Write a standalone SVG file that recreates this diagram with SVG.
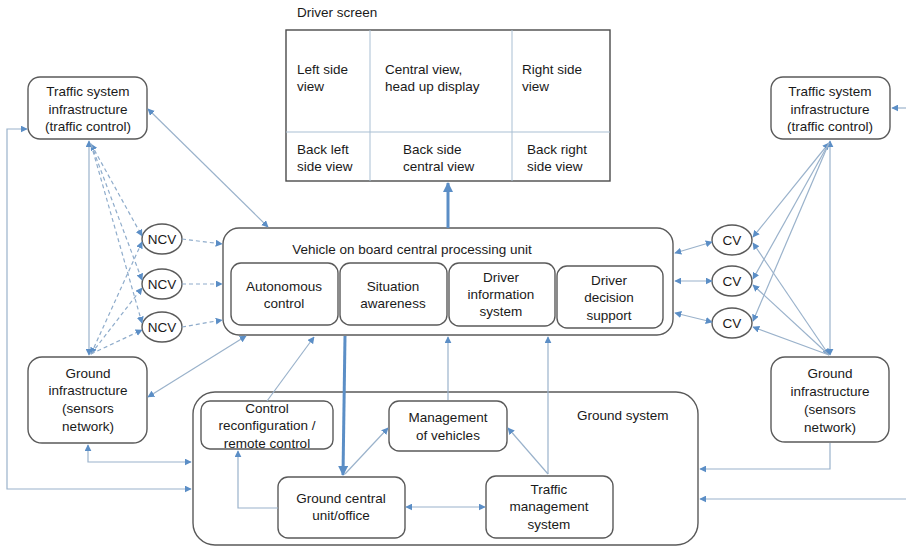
<svg xmlns="http://www.w3.org/2000/svg" width="906" height="549" viewBox="0 0 906 549">
<style>
text{font-family:"Liberation Sans",Arial,sans-serif;font-size:13.5px;fill:#1a1a1a}
.m{text-anchor:middle}
.box{fill:#fff;stroke:#5a5a5a;stroke-width:1.4}
.c{fill:none;stroke:#9ab2cb;stroke-width:1.2}
.d{fill:none;stroke:#8faccb;stroke-width:1.2;stroke-dasharray:4 3}
.t{fill:none;stroke:#5b8ec6;stroke-width:3}
.s{fill:none;stroke:#a9bfd3;stroke-width:1}
</style>
<defs>
<marker id="a" viewBox="0 0 10 10" refX="9" refY="5" markerWidth="7" markerHeight="7" markerUnits="userSpaceOnUse" orient="auto-start-reverse"><path d="M0,0 L10,5 L0,10 z" fill="#5b8ec6"/></marker>
<marker id="b" viewBox="0 0 10 10" refX="9" refY="5" markerWidth="10" markerHeight="10" markerUnits="userSpaceOnUse" orient="auto-start-reverse"><path d="M0,0 L10,5 L0,10 z" fill="#5b8ec6"/></marker>
</defs>

<text x="297" y="17">Driver screen</text>

<g id="driver-screen">
<rect x="286" y="30" width="324" height="151" fill="#fff" stroke="#4a4a4a" stroke-width="1.4"/>
<line x1="370" y1="30" x2="370" y2="181" class="s"/>
<line x1="512" y1="30" x2="512" y2="181" class="s"/>
<line x1="286" y1="132" x2="610" y2="132" class="s"/>
<text x="297" y="74">Left side</text><text x="297" y="91">view</text>
<text x="385" y="74">Central view,</text><text x="385" y="91">head up display</text>
<text x="522" y="74">Right side</text><text x="522" y="91">view</text>
<text x="297" y="154">Back left</text><text x="297" y="171">side view</text>
<text x="403" y="154">Back side</text><text x="403" y="171">central view</text>
<text x="527" y="154">Back right</text><text x="527" y="171">side view</text>
</g>

<g id="cpu">
<rect x="223" y="228" width="450" height="107" rx="16" class="box"/>
<text x="412" y="254" class="m">Vehicle on board central processing unit</text>
</g>
<g id="autonomous-control">
<rect x="231" y="263" width="107" height="62" rx="10" class="box"/>
<text x="284" y="291" class="m">Autonomous</text><text x="284" y="308" class="m">control</text>
</g>
<g id="situation-awareness">
<rect x="340" y="263" width="107" height="62" rx="10" class="box"/>
<text x="393" y="291" class="m">Situation</text><text x="393" y="308" class="m">awareness</text>
</g>
<g id="driver-information-system">
<rect x="449" y="263" width="106" height="63" rx="10" class="box"/>
<text x="501" y="282" class="m">Driver</text><text x="501" y="299" class="m">information</text><text x="501" y="316" class="m">system</text>
</g>
<g id="driver-decision-support">
<rect x="557" y="266" width="106" height="62" rx="10" class="box"/>
<text x="609" y="285" class="m">Driver</text><text x="609" y="302" class="m">decision</text><text x="609" y="320" class="m">support</text>
</g>

<g id="traffic-left">
<rect x="28" y="77" width="119" height="62" rx="12" class="box"/>
<text x="88" y="96" class="m">Traffic system</text><text x="88" y="114" class="m">infrastructure</text><text x="88" y="131" class="m">(traffic control)</text>
</g>
<g id="ground-infra-left">
<rect x="28" y="357" width="119" height="86" rx="14" class="box"/>
<text x="88" y="378" class="m">Ground</text><text x="88" y="395" class="m">infrastructure</text><text x="88" y="413" class="m">(sensors</text><text x="88" y="431" class="m">network)</text>
</g>
<g id="ncv1"><ellipse cx="162" cy="239" rx="20" ry="15" class="box"/><text x="162" y="244" class="m">NCV</text></g>
<g id="ncv2"><ellipse cx="162" cy="284" rx="20" ry="15" class="box"/><text x="162" y="289" class="m">NCV</text></g>
<g id="ncv3"><ellipse cx="162" cy="327" rx="20" ry="15" class="box"/><text x="162" y="332" class="m">NCV</text></g>

<g id="traffic-right">
<rect x="771" y="77" width="119" height="62" rx="12" class="box"/>
<text x="830" y="96" class="m">Traffic system</text><text x="830" y="114" class="m">infrastructure</text><text x="830" y="131" class="m">(traffic control)</text>
</g>
<g id="ground-infra-right">
<rect x="771" y="357" width="118" height="85" rx="14" class="box"/>
<text x="830" y="378" class="m">Ground</text><text x="830" y="396" class="m">infrastructure</text><text x="830" y="414" class="m">(sensors</text><text x="830" y="432" class="m">network)</text>
</g>
<g id="cv1"><ellipse cx="732" cy="240" rx="20" ry="15" class="box"/><text x="732" y="245" class="m">CV</text></g>
<g id="cv2"><ellipse cx="732" cy="281" rx="20" ry="15" class="box"/><text x="732" y="286" class="m">CV</text></g>
<g id="cv3"><ellipse cx="732" cy="323" rx="20" ry="15" class="box"/><text x="732" y="328" class="m">CV</text></g>

<g id="ground-system">
<rect x="193" y="392" width="505" height="153" rx="22" class="box"/>
<text x="577" y="420">Ground system</text>
</g>
<g id="control-reconfiguration">
<rect x="201" y="401" width="132" height="48" rx="9" class="box"/>
<text x="267" y="413" class="m">Control</text><text x="267" y="430" class="m">reconfiguration /</text><text x="267" y="448" class="m">remote control</text>
</g>
<g id="management-of-vehicles">
<rect x="389" y="401" width="118" height="50" rx="10" class="box"/>
<text x="448" y="422" class="m">Management</text><text x="448" y="440" class="m">of vehicles</text>
</g>
<g id="ground-central-unit">
<rect x="278" y="477" width="127" height="61" rx="10" class="box"/>
<text x="341" y="503" class="m">Ground central</text><text x="341" y="520" class="m">unit/office</text>
</g>
<g id="traffic-management-system">
<rect x="486" y="476" width="127" height="62" rx="10" class="box"/>
<text x="549" y="494" class="m">Traffic</text><text x="549" y="511" class="m">management</text><text x="549" y="529" class="m">system</text>
</g>

<g id="connectors">
<!-- CPU to screen -->
<line x1="448" y1="228" x2="448" y2="183" class="t" marker-end="url(#b)"/>
<!-- CPU to ground central -->
<line x1="345" y1="336" x2="343" y2="475" class="t" marker-end="url(#b)"/>
<!-- left side -->
<line x1="89" y1="141" x2="89" y2="355" class="c" marker-start="url(#a)" marker-end="url(#a)"/>
<line x1="148" y1="109" x2="268" y2="227" class="c" marker-start="url(#a)" marker-end="url(#a)"/>
<line x1="148" y1="397" x2="246" y2="336" class="c" marker-start="url(#a)" marker-end="url(#a)"/>
<polyline points="27,129 7,129 7,489 191,489" class="c" marker-start="url(#a)" marker-end="url(#a)"/>
<polyline points="88,445 88,462 191,462" class="c" marker-start="url(#a)" marker-end="url(#a)"/>
<line x1="91" y1="144" x2="142" y2="236" class="d" marker-start="url(#a)" marker-end="url(#a)"/>
<line x1="91" y1="144" x2="142" y2="280" class="d" marker-end="url(#a)"/>
<line x1="91" y1="144" x2="142" y2="323" class="d" marker-end="url(#a)"/>
<line x1="91" y1="354" x2="142" y2="242" class="d" marker-start="url(#a)" marker-end="url(#a)"/>
<line x1="91" y1="354" x2="142" y2="288" class="d" marker-end="url(#a)"/>
<line x1="91" y1="354" x2="142" y2="330" class="d" marker-end="url(#a)"/>
<line x1="182" y1="239" x2="222" y2="244" class="d" marker-end="url(#a)"/>
<line x1="182" y1="284" x2="222" y2="284" class="d" marker-end="url(#a)"/>
<line x1="182" y1="327" x2="222" y2="320" class="d" marker-end="url(#a)"/>
<!-- right side -->
<line x1="675" y1="253" x2="712" y2="242" class="c" marker-start="url(#a)" marker-end="url(#a)"/>
<line x1="675" y1="281" x2="712" y2="281" class="c" marker-start="url(#a)" marker-end="url(#a)"/>
<line x1="675" y1="313" x2="712" y2="322" class="c" marker-start="url(#a)" marker-end="url(#a)"/>
<line x1="830" y1="141" x2="830" y2="355" class="c" marker-start="url(#a)" marker-end="url(#a)"/>
<line x1="829" y1="143" x2="753" y2="237" class="c" marker-start="url(#a)" marker-end="url(#a)"/>
<line x1="829" y1="143" x2="753" y2="279" class="c" marker-end="url(#a)"/>
<line x1="829" y1="143" x2="753" y2="321" class="c" marker-end="url(#a)"/>
<line x1="829" y1="355" x2="753" y2="243" class="c" marker-start="url(#a)" marker-end="url(#a)"/>
<line x1="829" y1="355" x2="753" y2="285" class="c" marker-end="url(#a)"/>
<line x1="829" y1="355" x2="753" y2="327" class="c" marker-end="url(#a)"/>
<line x1="906" y1="108" x2="892" y2="108" class="c" marker-end="url(#a)"/>
<polyline points="830,443 830,469 700,469" class="c" marker-end="url(#a)"/>
<line x1="906" y1="499" x2="700" y2="499" class="c" marker-end="url(#a)"/>
<!-- ground system internal -->
<polyline points="278,508 238,508 238,451" class="c" marker-end="url(#a)"/>
<line x1="345" y1="474" x2="388" y2="428" class="c" marker-end="url(#a)"/>
<line x1="406" y1="507" x2="485" y2="507" class="c" marker-start="url(#a)" marker-end="url(#a)"/>
<line x1="548" y1="474" x2="508" y2="428" class="c" marker-end="url(#a)"/>
<line x1="548" y1="474" x2="548" y2="337" class="c" marker-end="url(#a)"/>
<line x1="448" y1="400" x2="448" y2="337" class="c" marker-end="url(#a)"/>
<line x1="267" y1="401" x2="314" y2="337" class="c" marker-end="url(#a)"/>
</g>
</svg>
